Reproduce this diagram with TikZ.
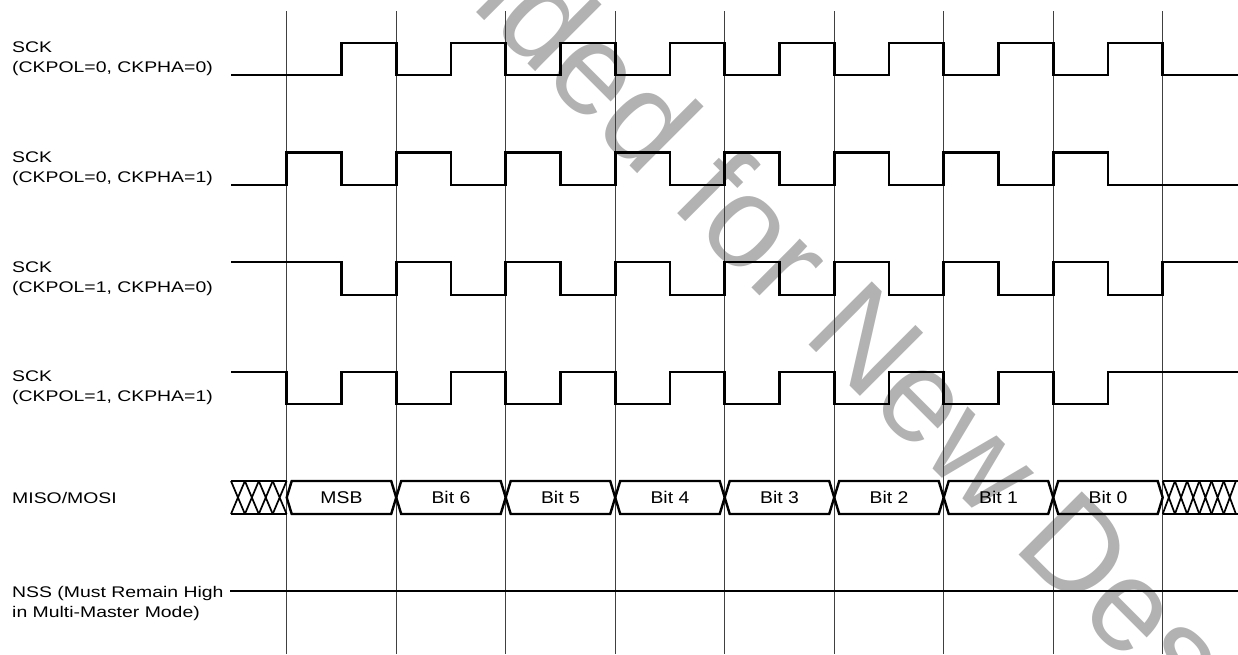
\documentclass[tikz,border=0pt]{standalone}
\usepackage{fontspec}
\setmainfont{Liberation Sans}[FakeStretch=1.26]
\newfontfamily\bitfont{Liberation Sans}[FakeStretch=1.14]
\newfontfamily\wmfont{Liberation Sans}
\newcommand{\tzero}{286.7}
\newcommand{\tper}{109.5}
\newcommand{\thalf}{54.75}

\begin{document}
\begin{tikzpicture}[x=1pt, y=-1pt,
  sig/.style={line width=2.6pt, line join=miter},
  bus/.style={line width=2.4pt, line join=miter},
  hatch/.style={line width=1.7pt},
  gridline/.style={line width=0.8pt, black!75},
  lbl/.style={inner sep=0pt, align=left, anchor=north west, font=\fontsize{15.4}{20}\selectfont},
  bit/.style={inner sep=0pt, font=\bitfont\fontsize{17}{20}\selectfont},
  wmark/.style={black!30, inner sep=0pt, rotate=-45, anchor=base west, font=\wmfont\fontsize{130}{130}\selectfont}
]
\useasboundingbox (0,0) rectangle (1238,654);
\begin{scope}
  \clip (0,0) rectangle (1238,654);
  \node[wmark] (wm) at (-148.4,-612.4) {Not Recommended for New Designs};
\end{scope}

\foreach \k in {0,...,8}
  \draw[gridline] ({\tzero+\tper*\k},11) -- ({\tzero+\tper*\k},654);

\node[lbl] (sck0) at (12,41.7) {SCK\\(CKPOL=0, CKPHA=0)};
\node[lbl] (sck1) at (12,151.4) {SCK\\(CKPOL=0, CKPHA=1)};
\node[lbl] (sck2) at (12,261.1) {SCK\\(CKPOL=1, CKPHA=0)};
\node[lbl] (sck3) at (12,370.8) {SCK\\(CKPOL=1, CKPHA=1)};
\node[lbl, anchor=base west] (data) at (12,503) {MISO/MOSI};
\node[lbl] (nss) at (12,585.8) {NSS (Must Remain High\\in Multi-Master Mode)};

\draw[sig] (231,75) \foreach \k in {0,...,7}{
  -- ({\tzero+\tper*\k+\thalf},75) -- ({\tzero+\tper*\k+\thalf},43)
  -- ({\tzero+\tper*(\k+1)},43) -- ({\tzero+\tper*(\k+1)},75)} -- (1238,75);
\draw[sig] (231,185) \foreach \k in {0,...,7}{
  -- ({\tzero+\tper*\k},185) -- ({\tzero+\tper*\k},152.5)
  -- ({\tzero+\tper*\k+\thalf},152.5) -- ({\tzero+\tper*\k+\thalf},185)} -- (1238,185);
\draw[sig] (231,262) \foreach \k in {0,...,7}{
  -- ({\tzero+\tper*\k+\thalf},262) -- ({\tzero+\tper*\k+\thalf},295)
  -- ({\tzero+\tper*(\k+1)},295) -- ({\tzero+\tper*(\k+1)},262)} -- (1238,262);
\draw[sig] (231,372) \foreach \k in {0,...,7}{
  -- ({\tzero+\tper*\k},372) -- ({\tzero+\tper*\k},404)
  -- ({\tzero+\tper*\k+\thalf},404) -- ({\tzero+\tper*\k+\thalf},372)} -- (1238,372);

\draw[hatch] (231,481) -- (\tzero,481) (231,514) -- (\tzero,514);
\foreach \i in {0,...,3}
  \draw[hatch] ({231+13.9*\i},481) -- ({244.9+13.9*\i},514)
               ({244.9+13.9*\i},481) -- ({231+13.9*\i},514);
\foreach \k/\txt in {0/MSB,1/Bit 6,2/Bit 5,3/Bit 4,4/Bit 3,5/Bit 2,6/Bit 1,7/Bit 0}{
  \pgfmathsetmacro{\ta}{\tzero+\tper*\k}
  \pgfmathsetmacro{\tb}{\ta+\tper}
  \draw[bus] ({\ta+5},481) -- ({\tb-5},481) -- (\tb,497.5) -- ({\tb-5},514)
    -- ({\ta+5},514) -- (\ta,497.5) -- cycle;
  \node[bit] (b\k) at ({\ta+\thalf},497.5) {\txt};
}
\draw[hatch] (1162.7,481) -- (1238,481) (1162.7,514) -- (1238,514);
\foreach \i in {0,...,5}
  \draw[hatch] ({1162.7+12.2*\i},481) -- ({1174.9+12.2*\i},514)
               ({1174.9+12.2*\i},481) -- ({1162.7+12.2*\i},514);

\draw[sig] (230,591) -- (1238,591);
\end{tikzpicture}
\end{document}
